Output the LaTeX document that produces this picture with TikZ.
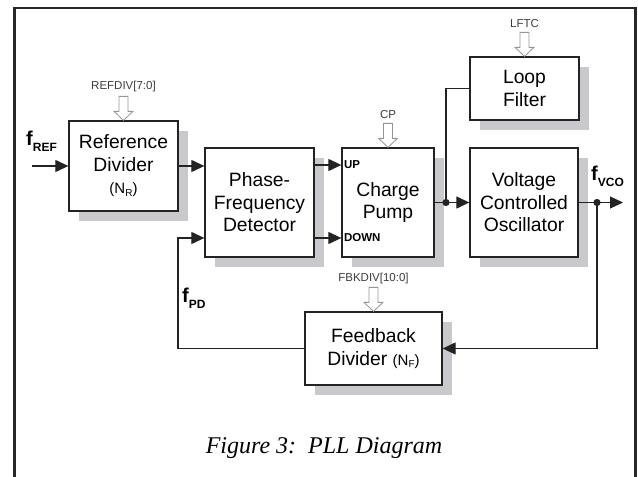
\documentclass[tikz,border=0pt]{standalone}
\usepackage{fontspec}
\setmainfont{Liberation Sans}
\newfontfamily\capfont{Liberation Serif}
\usetikzlibrary{arrows.meta,shadows}
\definecolor{shadowgray}{RGB}{200,200,205}
\definecolor{linec}{RGB}{35,35,35}
\definecolor{framec}{RGB}{40,40,40}
\definecolor{hollowc}{RGB}{150,150,150}
\definecolor{lblc}{RGB}{60,60,60}
\newcommand\subtxt[1]{\raisebox{-0.3ex}{\fontsize{10}{10}\selectfont #1}}
\newcommand\fsym[1]{f\raisebox{-6pt}{\fontsize{12}{12}\selectfont #1}}
\begin{document}
\begin{tikzpicture}[x=1pt,y=-1pt,
  blk/.style={draw=linec, line width=1.3pt, fill=white, align=center, inner sep=0pt,
    font=\fontsize{19.3}{22.5}\selectfont,
    drop shadow={shadow xshift=10pt, shadow yshift=-10pt, fill=shadowgray, opacity=1}},
  arr/.style={-{Triangle[length=13pt,width=12pt]}, draw=linec, line width=1.2pt},
  wire/.style={draw=linec, line width=1.2pt},
  lbl/.style={text=lblc, font=\fontsize{11.5}{12}\selectfont, inner sep=0pt},
  pl/.style={text=black, font=\bfseries\fontsize{11.5}{12}\selectfont, inner sep=0pt, anchor=west},
  fl/.style={text=black, font=\bfseries\fontsize{20}{20}\selectfont, inner sep=0pt, anchor=base west},
  harrow/.pic={\draw[hollowc, line width=0.8pt, fill=white, line join=miter]
    (-4.5,-24) -- (4.5,-24) -- (4.5,-9) -- (9.5,-9) -- (0,0) -- (-9.5,-9) -- (-4.5,-9) -- cycle;}
  ]
\useasboundingbox (0,0) rectangle (638,477);
% frame
\draw[framec, line width=2.3pt] (14.5,480) -- (14.5,8) -- (635.5,8) -- (635.5,480);

% blocks
\node[blk, minimum width=109pt, minimum height=90pt] (ref) at (123.5,166)
  {Reference\\Divider\\{\fontsize{15}{18}\selectfont (N\subtxt{R})}};
\node[blk, minimum width=109pt, minimum height=109pt] (pfd) at (259.5,202.5)
  {Phase-\\Frequency\\Detector};
\node[blk, minimum width=92pt, minimum height=109pt] (cp) at (388,202.5)
  {Charge\\Pump};
\node[blk, minimum width=109pt, minimum height=63pt] (lf) at (524.5,88.5)
  {Loop\\Filter};
\node[blk, minimum width=108pt, minimum height=109pt] (vco) at (524,202.5)
  {Voltage\\Controlled\\Oscillator};
\node[blk, minimum width=137pt, minimum height=73pt] (fb) at (373.5,348.5)
  {Feedback\\Divider {\fontsize{15}{18}\selectfont (N\subtxt{F})}};

% control inputs
\pic at (ref.north) {harrow};
\pic at (cp.north) {harrow};
\pic at (lf.north) {harrow};
\pic at (fb.north) {harrow};
\node[lbl] (refdivl) at ([yshift=34pt]ref.north) {REFDIV[7:0]};
\node[lbl] (cpl) at ([yshift=33pt]cp.north) {CP};
\node[lbl] (lftcl) at ([yshift=33pt]lf.north) {LFTC};
\node[lbl] (fbkl) at ([yshift=33pt]fb.north) {FBKDIV[10:0]};

% helper coordinates
\coordinate (fin) at (32,166);
\coordinate (yU) at (0,165);
\coordinate (yD) at (0,238);
\coordinate (xfb) at (178,0);
\coordinate (xj1) at (446,0);
\coordinate (xj2) at (597,0);
\coordinate (xout) at (623,0);
\coordinate (j1) at (xj1 |- cp.east);
\coordinate (j2) at (xj2 |- vco.east);
\coordinate (vout) at (xout |- vco.east);
\coordinate (upa) at (cp.west |- yU);
\coordinate (dna) at (cp.west |- yD);

% connectors
\draw[arr] (fin) -- (ref.west);
\draw[arr] (ref.east) -- (ref.east -| pfd.west);
\draw[arr] (pfd.east |- yU) -- (upa);
\draw[arr] (pfd.east |- yD) -- (dna);
\draw[wire] (cp.east) -- (j1);
\draw[arr] (j1) -- (vco.west);
\draw[wire] (j1) |- (lf.west);
\draw[wire] (vco.east) -- (j2);
\draw[arr] (j2) -- (vout);
\draw[arr] (j2) |- (fb.east);
\draw[arr] (fb.west) -| (xfb |- yD) -- (pfd.west |- yD);
\fill[linec] (j1) circle (3.6pt);
\fill[linec] (j2) circle (3.6pt);

% port labels
\node[pl] (upl) at ([xshift=2.5pt]upa) {UP};
\node[pl] (dnl) at ([xshift=2.5pt]dna) {DOWN};

% signal labels
\node[fl] (fref) at (26,145) {\fsym{REF}};
\node[fl] (fvco) at (591,180) {\fsym{VCO}};
\node[fl] (fpd) at (182,302) {\fsym{PD}};

% caption
\node[font=\capfont\itshape\fontsize{24}{24}\selectfont, inner sep=0pt] (cap) at (324,448)
  {Figure 3:\ \ PLL Diagram};
\end{tikzpicture}
\end{document}
